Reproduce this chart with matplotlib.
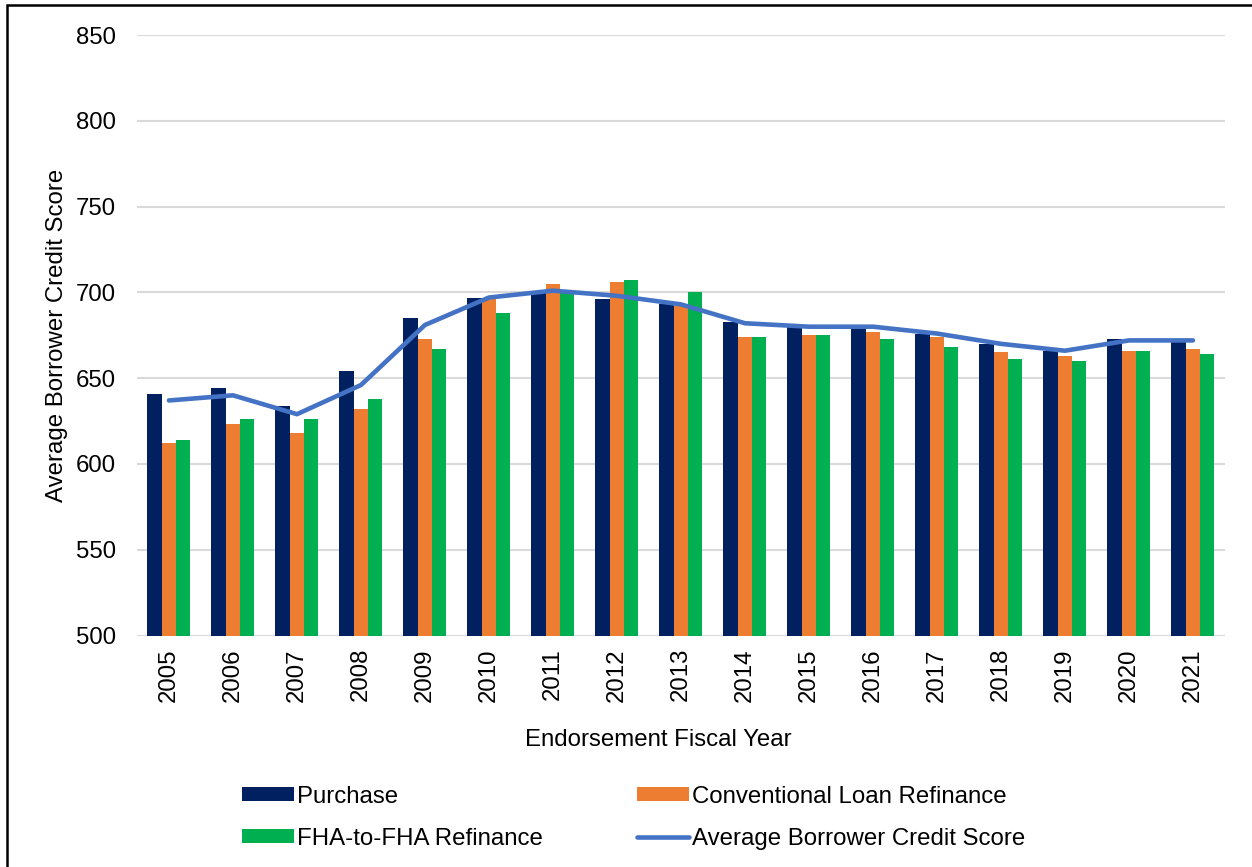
import matplotlib
matplotlib.use('Agg')
import matplotlib.pyplot as plt
from matplotlib.patches import Rectangle
import numpy as np

plt.rcParams['font.family'] = ['Liberation Sans', 'DejaVu Sans']

years = ['2005', '2006', '2007', '2008', '2009', '2010', '2011', '2012', '2013',
         '2014', '2015', '2016', '2017', '2018', '2019', '2020', '2021']
purchase = [641, 644, 634, 654, 685, 697, 701, 696, 693, 683, 680, 680, 676, 670, 666, 673, 671]
conventional = [612, 623, 618, 632, 673, 697, 705, 706, 692, 674, 675, 677, 674, 665, 663, 666, 667]
fha_to_fha = [614, 626, 626, 638, 667, 688, 701, 707, 700, 674, 675, 673, 668, 661, 660, 666, 664]
avg_score = [637, 640, 629, 646, 681, 697, 701, 698, 693, 682, 680, 680, 676, 670, 666, 672, 672]

fs = 17.3

fig = plt.figure(figsize=(12.52, 8.67), dpi=100)
ax = fig.add_axes([0.1094, 0.267, 0.8690, 0.6926])

x = np.arange(len(years))
w = 0.224
ax.bar(x - w, purchase, w, color='#002060', label='Purchase', zorder=2)
ax.bar(x, conventional, w, color='#ED7D31', label='Conventional Loan Refinance', zorder=2)
ax.bar(x + w, fha_to_fha, w, color='#00B050', label='FHA-to-FHA Refinance', zorder=2)
ax.plot(x, avg_score, color='#4472C4', lw=3.3, solid_capstyle='round',
        label='Average Borrower Credit Score', zorder=3)

ax.set_ylim(500, 850)
ax.set_yticks(range(500, 851, 50))
ax.set_xlim(-0.5, len(years) - 0.5)
ax.set_xticks(x)
ax.set_xticklabels(years, rotation=90)
ax.tick_params(axis='both', length=0, labelsize=fs, colors='#000000')
ax.tick_params(axis='y', pad=15)
ax.tick_params(axis='x', pad=9)
ax.grid(axis='y', color='#D9D9D9', lw=1.5, zorder=0)
for s in ax.spines.values():
    s.set_visible(False)

ax.set_xlabel('Endorsement Fiscal Year', fontsize=fs, labelpad=20)
ax.xaxis.set_label_coords(0.479, -0.155)
ax.set_ylabel('Average Borrower Credit Score', fontsize=fs, labelpad=6)

handles, labels = ax.get_legend_handles_labels()
by_label = dict(zip(labels, handles))
order = ['Purchase', 'FHA-to-FHA Refinance', 'Conventional Loan Refinance',
         'Average Borrower Credit Score']
fig.legend([by_label[k] for k in order], order,
           loc='upper left', bbox_to_anchor=(0.1933, 0.094), ncol=2, frameon=False,
           fontsize=fs, handlelength=2.17, handleheight=0.53, handletextpad=0.1,
           columnspacing=3.95, labelspacing=0.85, borderaxespad=0, borderpad=0)

fig.patches.append(Rectangle((7 / 1252, -0.05), 1.2, 1.05 - 5.5 / 867, fill=False,
                             edgecolor='black', lw=1.8, transform=fig.transFigure,
                             figure=fig))

fig.savefig('out.png', dpi=100)
